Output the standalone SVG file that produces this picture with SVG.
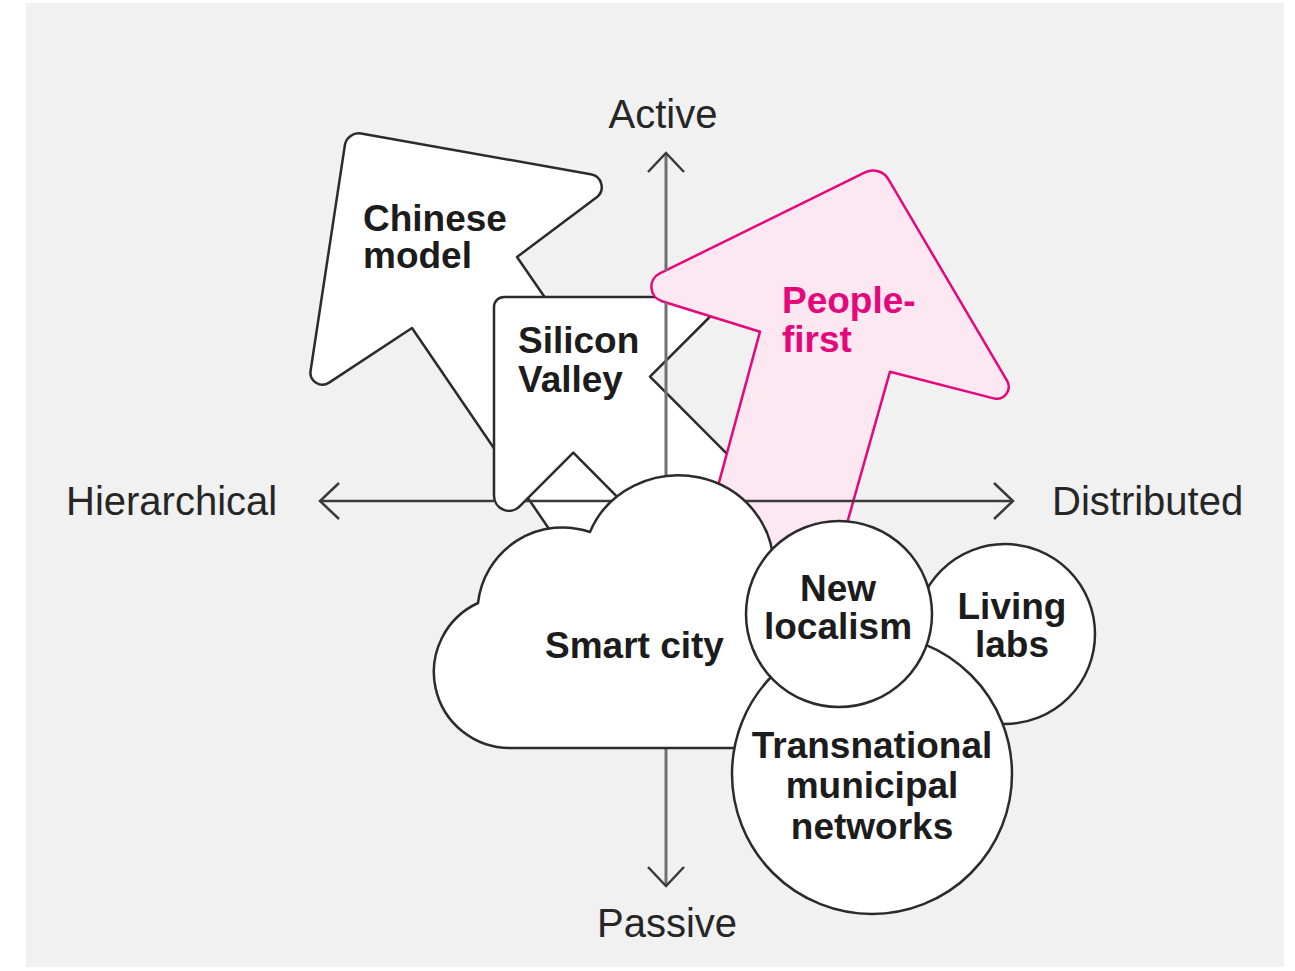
<svg xmlns="http://www.w3.org/2000/svg" width="1295" height="971" viewBox="0 0 1295 971">
  <defs>
    <style>
      .shape{fill:#ffffff;stroke:#2b2b2b;stroke-width:2.5;stroke-linejoin:round}
      .pink{fill:#fde7f0;stroke:#e4087c;stroke-width:2.5;stroke-linejoin:round}
      .axis-h{fill:none;stroke:#3a3a3a;stroke-width:2.5}
      .axis-v{fill:none;stroke:#707070;stroke-width:3}
      .lbl{font-family:"Liberation Sans",Arial,sans-serif;font-weight:bold;font-size:37px;fill:#1c1c1c}
      .lbl-pink{fill:#e4087c}
      .ax{font-family:"Liberation Sans",Arial,sans-serif;font-size:40px;fill:#262626}
      .mid{text-anchor:middle}
    </style>
    <!-- open chevron used at the ends of both axes -->
    <marker id="chev" markerUnits="userSpaceOnUse" viewBox="-22 -22 26 44" markerWidth="26" markerHeight="44" refX="0" refY="0" orient="auto-start-reverse" overflow="visible">
      <path d="M -19,-18 L 0,0 L -19,18" fill="none" stroke="#3a3a3a" stroke-width="2.5"/>
    </marker>
  </defs>

  <!-- panel background -->
  <rect x="26" y="3" width="1258" height="964" fill="#f1f1f1"/>

  <!-- axis labels -->
  <g id="axis-labels">
    <text class="ax mid" x="663" y="128">Active</text>
    <text class="ax mid" x="667" y="937">Passive</text>
    <text class="ax" x="66" y="515">Hierarchical</text>
    <text class="ax" x="1052" y="515">Distributed</text>
  </g>

  <!-- arrow: Chinese model -->
  <g id="chinese-model">
    <path class="shape" d="M 361,133.5 L 590.7,174.2 A 13 13 0 0 1 596.4,197.5 L 517,257 L 650,450 L 640,560 L 560,545 L 412,328 L 329.1,382.6 A 12 12 0 0 1 310.6,370.8 L 344.9,145 A 14 14 0 0 1 361,133.5 Z"/>
    <text class="lbl" x="363" y="231">Chinese</text>
    <text class="lbl" x="363" y="268">model</text>
  </g>

  <!-- arrow: Silicon Valley -->
  <g id="silicon-valley">
    <path class="shape" d="M 504,297 L 729.7,297 L 650,376.7 L 785,512 L 660,540 L 573.3,452.7 L 519.6,506.4 A 15 15 0 0 1 494,495.8 L 494,307 A 10 10 0 0 1 504,297 Z"/>
    <text class="lbl" x="518" y="353">Silicon</text>
    <text class="lbl" x="518" y="392">Valley</text>
  </g>

  <!-- arrow: People-first -->
  <g id="people-first">
    <path class="pink" d="M 888.5,179.4 L 1007,380.7 A 12 12 0 0 1 993.7,398.4 L 890,371.7 L 825.3,600 L 687,600 L 760,331.7 L 662,301.2 A 15 15 0 0 1 659.8,273.4 L 865,172.4 A 18 18 0 0 1 888.5,179.4 Z"/>
    <text class="lbl lbl-pink" x="782" y="313">People-</text>
    <text class="lbl lbl-pink" x="782" y="352">first</text>
  </g>

  <!-- axes -->
  <g id="axes">
    <line class="axis-v" x1="666" y1="271" x2="666" y2="153" marker-end="url(#chev)"/>
    <line class="axis-v" x1="666" y1="302.5" x2="666" y2="886" marker-end="url(#chev)"/>
    <line class="axis-h" x1="494" y1="501" x2="320" y2="501" marker-end="url(#chev)"/>
    <line class="axis-h" x1="525" y1="501" x2="1013" y2="501" marker-end="url(#chev)"/>
  </g>

  <!-- cloud: Smart city -->
  <g id="smart-city">
    <path class="shape" d="M 510,748 A 76 76 0 0 1 478,603 A 85 85 0 0 1 590,532 A 95 90 0 0 1 773,572 L 773,748 Z"/>
    <text class="lbl" x="545" y="658">Smart city</text>
  </g>

  <g id="living-labs">
    <circle class="shape" cx="1005" cy="634" r="90"/>
    <text class="lbl mid" x="1012" y="619">Living</text>
    <text class="lbl mid" x="1012" y="657">labs</text>
  </g>

  <g id="transnational-networks">
    <circle class="shape" cx="872" cy="774" r="140"/>
    <text class="lbl mid" x="872" y="758">Transnational</text>
    <text class="lbl mid" x="872" y="798">municipal</text>
    <text class="lbl mid" x="872" y="839">networks</text>
  </g>

  <g id="new-localism">
    <circle class="shape" cx="839" cy="614" r="93"/>
    <text class="lbl mid" x="838" y="601">New</text>
    <text class="lbl mid" x="838" y="639">localism</text>
  </g>
</svg>
